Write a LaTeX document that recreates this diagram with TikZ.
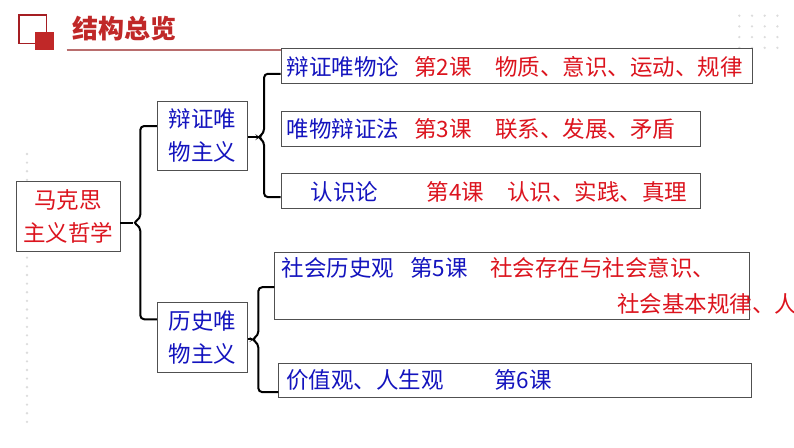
\documentclass[tikz,border=0pt]{standalone}
\usepackage{fontspec}
\newfontfamily\cjk{Noto Sans CJK SC}
\usetikzlibrary{calc}

\definecolor{tblue}{RGB}{20,20,190}
\definecolor{tred}{RGB}{220,20,30}
\definecolor{ttl}{RGB}{192,40,40}
\definecolor{sqline}{RGB}{165,30,35}
\definecolor{uline}{RGB}{185,110,110}
\definecolor{dotc}{RGB}{220,220,220}
\definecolor{boxc}{RGB}{80,80,80}

\begin{document}
\begin{tikzpicture}[x=1pt, y=-1pt,
  kbox/.style={draw=boxc, fill=white, line width=0.9pt, inner sep=0pt},
  mline/.style={align=center, font=\cjk\fontsize{22.5}{33}\selectfont},
  lbl/.style={anchor=west, inner sep=0pt, font=\cjk\fontsize{22.5}{27}\selectfont},
  bt/.style={lbl, text=tblue},
  rt/.style={lbl, text=tred},
  brc/.style={line width=2pt, rounded corners=4pt}]
\useasboundingbox (0,0) rectangle (794,447);

% dotted background marks
\foreach \i in {0,...,31}
  \fill[dotc] (27,{154+8.64*\i}) circle (1.3pt);
\foreach \i in {0,...,3}
  \foreach \j in {0,...,3}
    \fill[dotc] ({739.3+12.7*\i},{15.7+10.7*\j}) circle (1.3pt);

% heading
\draw[sqline, line width=1.3pt] (19,15) rectangle (46.7,43.3);
\fill[ttl] (35,31.7) rectangle (54,50);
\node[anchor=west, inner sep=0pt, text=ttl, font=\cjk\bfseries\fontsize{26}{30}\selectfont]
  (title) at (72,29) {结构总览};
\draw[uline, line width=1.5pt] (66.7,50) -- (280.5,50);

% left column
\node[kbox, mline, text=tred, minimum width=104pt, minimum height=69.3pt]
  (root) at (68,216.4) {马克思\\主义哲学};
\node[kbox, mline, text=tblue, minimum width=90pt, minimum height=69pt]
  (b1) at (202.3,135.5) {辩证唯\\物主义};
\node[kbox, mline, text=tblue, minimum width=90pt, minimum height=69.6pt]
  (b2) at (202.3,337.5) {历史唯\\物主义};

% right column
\node[kbox, anchor=north west, minimum width=471.5pt, minimum height=35pt] (r1) at (280.5,48.3) {};
\node[kbox, anchor=north west, minimum width=419.5pt, minimum height=34.7pt] (r2) at (280.5,111) {};
\node[kbox, anchor=north west, minimum width=419.5pt, minimum height=35pt] (r3) at (280.5,173.3) {};
\node[kbox, anchor=north west, minimum width=474.7pt, minimum height=67.6pt] (r4) at (274.3,251.7) {};
\node[kbox, anchor=north west, minimum width=472.7pt, minimum height=34pt] (r5) at (278.3,362.7) {};

\node[bt] (t1a) at (286.7,66.8) {辩证唯物论};
\node[rt] (t1b) at (414,66.8) {第2课};
\node[rt] (t1c) at (495,66.8) {物质、意识、运动、规律};

\node[bt] (t2a) at (286.7,129.3) {唯物辩证法};
\node[rt] (t2b) at (414,129.3) {第3课};
\node[rt] (t2c) at (495,129.3) {联系、发展、矛盾};

\node[bt] (t3a) at (310.7,191.8) {认识论};
\node[rt] (t3b) at (426.7,191.8) {第4课};
\node[rt] (t3c) at (507,191.8) {认识、实践、真理};

\node[bt] (t4a) at (281.7,268) {社会历史观};
\node[bt] (t4b) at (410,268) {第5课};
\node[rt] (t4c) at (490,268) {社会存在与社会意识、};
\node[rt] (t4d) at (617,304) {社会基本规律、人};

\node[bt] (t5a) at (286,380) {价值观、人生观};
\node[bt] (t5b) at (494,380) {第6课};

% braces
\draw[brc] ($(b1.west)+(0,-9.5)$) -- ++(-16.6,0) -- ++(0,92.7)
  -- ++(-7.4,4) coordinate (c1) -- ++(7.4,4) |- ($(b2.west)+(0,-18.2)$);
\draw[brc] (root.east |- c1) -- (c1);

\draw[brc] ($(r1.west)+(0,7.5)$) -- ++(-16.5,0) -- ++(0,59.4)
  -- ++(-6,4) coordinate (c2) -- ++(6,4) |- ($(r3.west)+(0,5.9)$);
\draw[brc] (b1.east |- c2) -- (c2);

\draw[brc] ($(r4.west)+(0,1.2)$) -- ++(-16,0) -- ++(0,48.3)
  -- ++(-6.6,4) coordinate (c3) -- ++(6.6,4) |- ($(r5.west)+(0,12)$);
\draw[brc] (b2.east |- c3) -- (c3);
\end{tikzpicture}
\end{document}
